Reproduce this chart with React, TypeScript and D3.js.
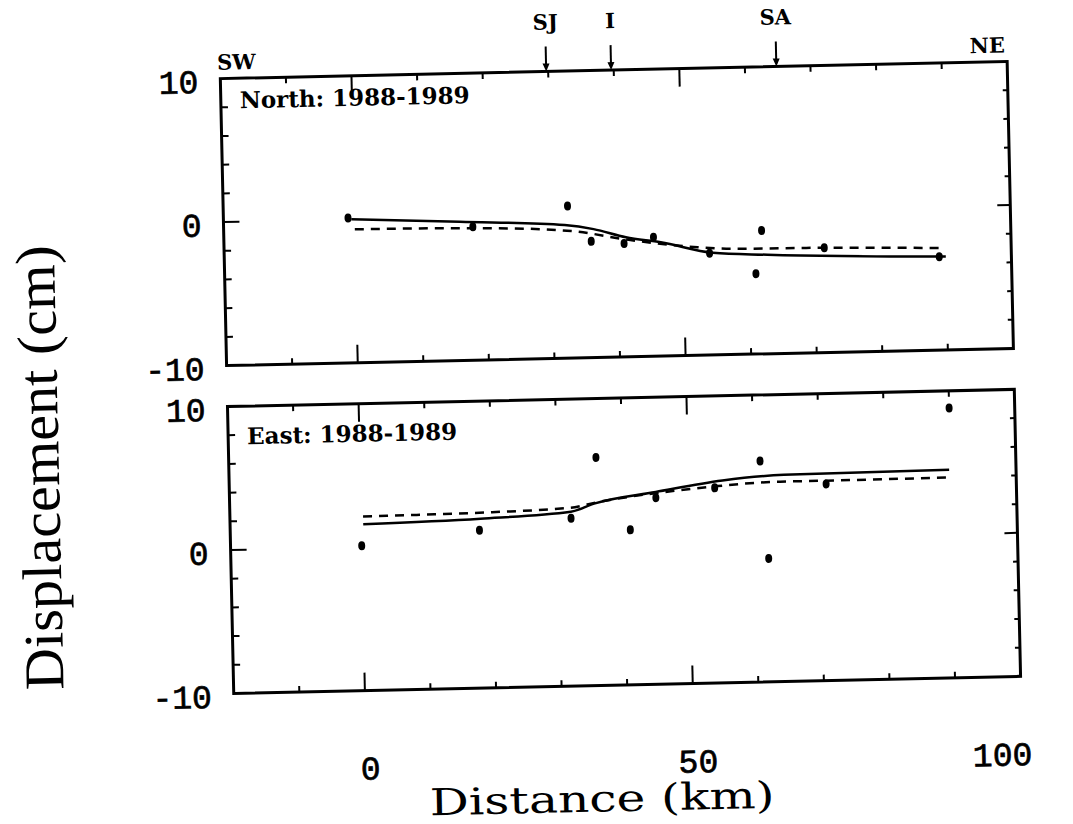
import React from 'react';
import * as d3 from 'd3';

// observed stations (km along profile, cm)
const northDist = [-1, 18, 32.5, 36, 41, 45.5, 54, 62, 61, 71.5, 89];
const northDisp = [0.1, -0.7, 0.6, -1.9, -2.1, -1.7, -2.9, -1.4, -4.4, -2.7, -3.5];
const eastDist = [0, 18, 32, 36, 41, 45, 54, 61, 62, 71, 90];
const eastDisp = [0.1, 1.0, 1.7, 5.9, 0.8, 3.0, 3.6, 5.4, -1.4, 3.7, 8.8];

// model curves
const northSolidDist = [-0.5, 16, 32, 36.4, 41.3, 46.6, 54.5, 62.8, 90];
const northSolidDisp = [0.0, -0.34, -0.72, -1.05, -1.67, -2.07, -2.88, -3.1, -3.5];
const northDashDist = [0, 18, 33, 41.7, 52.2, 57.9, 71.8, 89.5];
const northDashDisp = [-0.7, -0.8, -1.15, -1.85, -2.47, -2.64, -2.7, -2.9];
const eastSolidDist = [0.3, 18.2, 32, 35.7, 45, 55.2, 64.6, 89.8];
const eastSolidDisp = [1.6, 1.8, 2.15, 2.7, 3.4, 4.1, 4.4, 4.5];
const eastDashDist = [0.3, 20, 32, 36, 48, 54, 64, 71, 89.8];
const eastDashDisp = [2.14, 2.24, 2.43, 2.77, 3.46, 3.7, 3.93, 3.93, 3.97];

// fault crossings on top axis
const faultNames = ['SJ', 'I', 'SA'];
const faultDist = [29.7, 39.6, 64.8];

const xTickLabels = [0, 50, 100];
const yTickLabels = [10, 0, -10];

const left = 227;
const right = 1014;
const panelH = 287;

const x = d3.scaleLinear().domain([-20, 100]).range([left, right]);

type PanelProps = {
  top: number;
  label: string;
  labelDy: number;
  px: number[];
  py: number[];
  sx: number[];
  sy: number[];
  dx: number[];
  dy: number[];
};

function Panel({ top, label, labelDy, px, py, sx, sy, dx, dy }: PanelProps) {
  const y = d3.scaleLinear().domain([-10, 10]).range([top + panelH, top]);
  const line = d3.line<[number, number]>()
    .x(d => x(d[0]))
    .y(d => y(d[1]))
    .curve(d3.curveMonotoneX);
  const solid = line(sx.map((v, i) => [v, sy[i]]) as [number, number][]);
  const dashed = line(dx.map((v, i) => [v, dy[i]]) as [number, number][]);
  const bottom = top + panelH;
  const xMinor = d3.range(-10, 100, 10);
  const yMinor = d3.range(-8, 10, 2);

  return (
    <g>
      <rect x={left} y={top} width={right - left} height={panelH} fill="none" stroke="#000" strokeWidth={3} />
      {xMinor.map(t => {
        const len = t % 50 === 0 ? 18 : 6;
        return (
          <g key={'x' + t} stroke="#000" strokeWidth={2}>
            <line x1={x(t)} x2={x(t)} y1={bottom} y2={bottom - len} />
            <line x1={x(t)} x2={x(t)} y1={top} y2={top + len} />
          </g>
        );
      })}
      {yMinor.map(t => {
        const major = t === 0;
        return (
          <g key={'y' + t} stroke="#000" strokeWidth={2}>
            <line x1={left} x2={left + (major ? 16 : 7)} y1={y(t)} y2={y(t)} />
            <line x1={right} x2={right - (major ? 13 : 5)} y1={y(t)} y2={y(t)} />
          </g>
        );
      })}
      {yTickLabels.map(t => (
        <text key={'yl' + t} x={left - 22} y={y(t) + 14} textAnchor="end"
          fontFamily="Liberation Mono" fontSize={33} stroke="#000" strokeWidth={0.7}>{String(t)}</text>
      ))}
      <text x={left + 19} y={top + labelDy} fontFamily="DejaVu Serif" fontWeight="bold" fontSize={23}>{label}</text>
      <path d={solid || ''} fill="none" stroke="#000" strokeWidth={2.5} />
      <path d={dashed || ''} fill="none" stroke="#000" strokeWidth={2.5} strokeDasharray="9,7" />
      {px.map((v, i) => (
        <ellipse key={'p' + i} cx={x(v)} cy={y(py[i])} rx={3.5} ry={4.5} fill="#000" />
      ))}
    </g>
  );
}

export default function App() {
  const top1 = 70;
  const top2 = 398;
  return (
    <svg width={1073} height={824} style={{ position: 'absolute', left: 0, top: 0, background: '#fff' }}>
      <rect width={1073} height={824} fill="#fff" />
      <g transform="rotate(-1.25, 620, 380)">
        <Panel top={top1} label="North: 1988-1989" labelDy={30} px={northDist} py={northDisp}
          sx={northSolidDist} sy={northSolidDisp} dx={northDashDist} dy={northDashDisp} />
        <Panel top={top2} label="East: 1988-1989" labelDy={38} px={eastDist} py={eastDisp}
          sx={eastSolidDist} sy={eastSolidDisp} dx={eastDashDist} dy={eastDashDisp} />

        <text x={left - 3} y={top1 - 9} fontFamily="DejaVu Serif" fontWeight="bold" fontSize={21}>SW</text>
        <text x={right - 2} y={top1 - 9} textAnchor="end" fontFamily="DejaVu Serif" fontWeight="bold" fontSize={21}>NE</text>
        {faultNames.map((n, i) => (
          <g key={n}>
            <line x1={x(faultDist[i])} x2={x(faultDist[i])} y1={top1 - 25} y2={top1 - 3} stroke="#000" strokeWidth={2} />
            <path d={`M${x(faultDist[i]) - 3.5},${top1 - 8} L${x(faultDist[i]) + 3.5},${top1 - 8} L${x(faultDist[i])},${top1} Z`} fill="#000" />
            <text x={x(faultDist[i])} y={top1 - 42} textAnchor="middle" fontFamily="DejaVu Serif" fontWeight="bold" fontSize={21}>{n}</text>
          </g>
        ))}

        {xTickLabels.map((t, i) => (
          <text key={'xl' + t}
            x={i === xTickLabels.length - 1 ? x(t) + 10 : x(t) + 4}
            y={774}
            textAnchor={i === xTickLabels.length - 1 ? 'end' : 'middle'}
            fontFamily="Liberation Mono" fontSize={33} stroke="#000" strokeWidth={0.7}>{t}</text>
        ))}
        <text x={593} y={811} textAnchor="middle" fontFamily="DejaVu Serif" fontSize={37}
          textLength={345} lengthAdjust="spacingAndGlyphs">Distance (km)</text>
        <text transform="translate(57, 455) rotate(-90)" textAnchor="middle" fontFamily="Liberation Serif"
          fontSize={56} textLength={445} lengthAdjust="spacingAndGlyphs">Displacement (cm)</text>
      </g>
    </svg>
  );
}
